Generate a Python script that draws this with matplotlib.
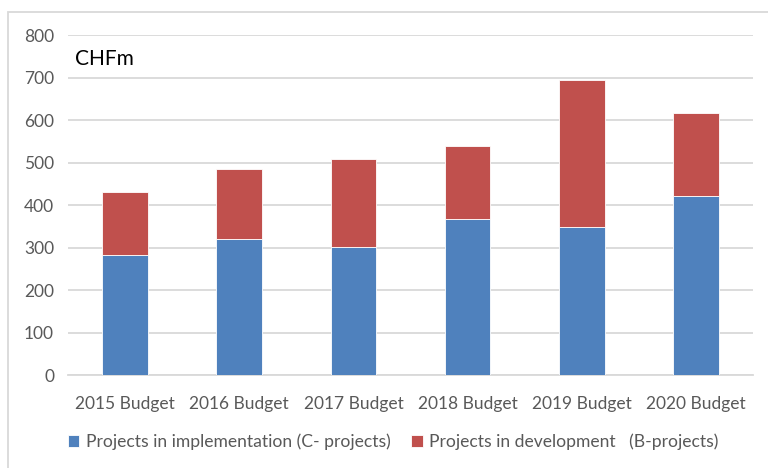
import numpy as np
import matplotlib
matplotlib.use('Agg')
import matplotlib.pyplot as plt
from matplotlib.patches import Rectangle

categories = ['2015 Budget', '2016 Budget', '2017 Budget', '2018 Budget', '2019 Budget', '2020 Budget']
c_projects = [282, 321, 302, 367, 349, 423]
b_projects = [150, 165, 207, 172, 347, 193]
yticks = [0, 100, 200, 300, 400, 500, 600, 700, 800]

plt.rcParams['font.family'] = ['Lato', 'DejaVu Sans']

fig = plt.figure(figsize=(7.68, 4.68), dpi=100)
ax = fig.add_axes([68 / 768, 1 - 375.3 / 468, 685 / 768, (375.3 - 35.3) / 468])

x = np.arange(len(categories))
ax.bar(x, c_projects, width=0.4, color='#4F81BD', edgecolor='white', linewidth=0.6,
       label='Projects in implementation (C- projects)', zorder=3)
ax.bar(x, b_projects, width=0.4, bottom=c_projects, color='#C0504D', edgecolor='white',
       linewidth=0.6, label='Projects in development   (B-projects)', zorder=3)

ax.set_xlim(-0.5, len(categories) - 0.5)
ax.set_ylim(0, 800)
ax.set_yticks(yticks)
ax.set_xticks(x)
ax.set_xticklabels(categories)
ax.grid(axis='y', color='#D9D9D9', linewidth=1.3, zorder=0)
for s in ['top', 'right', 'left']:
    ax.spines[s].set_visible(False)
ax.spines['bottom'].set_color('#D9D9D9')
ax.spines['bottom'].set_linewidth(1.3)
ax.tick_params(axis='both', length=0, labelsize=12.5, labelcolor='#595959')
ax.tick_params(axis='x', pad=15)
ax.tick_params(axis='y', pad=10)

ax.text(0.01, 0.93, 'CHFm', transform=ax.transAxes, fontsize=15, color='black',
        va='center', ha='left')

leg = fig.legend(loc='center left', bbox_to_anchor=(68 / 768, 1 - 442 / 468), ncol=2,
                 frameon=False, fontsize=12.6, handlelength=0.65, handleheight=0.65,
                 handletextpad=0.35, columnspacing=1.2, borderaxespad=0, borderpad=0)
for t in leg.get_texts():
    t.set_color('#595959')

fig.patches.append(Rectangle((8 / 768, -0.1), 1.1, 1 - 12 / 468 + 0.1, transform=fig.transFigure,
                             fill=False, edgecolor='#D9D9D9', linewidth=1.3))

fig.savefig('out.png', dpi=100)
